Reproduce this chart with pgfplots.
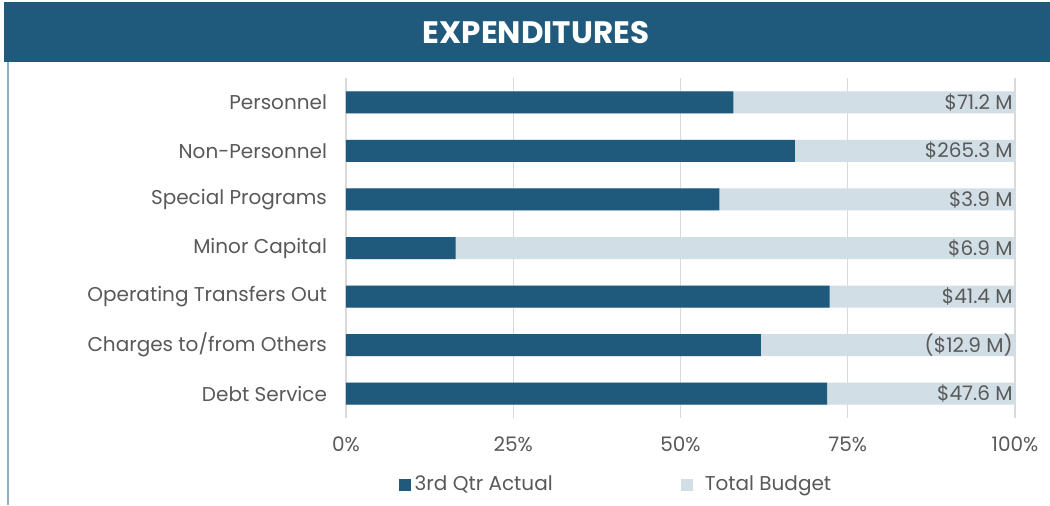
\documentclass[border=0pt]{standalone}
\usepackage{pgfplots}
\pgfplotsset{compat=1.18}
\usepackage{fontspec}
\setmainfont{Poppins}
\definecolor{dark}{HTML}{1F5A7C}
\definecolor{light}{HTML}{D1DEE6}
\definecolor{txt}{HTML}{595959}
\definecolor{gridc}{HTML}{D9D9D9}
\definecolor{framec}{HTML}{8FAFC4}
\begin{document}
\begin{tikzpicture}
\fill[white] (0pt,0pt) rectangle (525pt,-252.5pt);
\fill[dark] (2pt,-1pt) rectangle (525pt,-31pt);
\draw[framec, line width=0.8pt] (4pt,-31pt) -- (4pt,-252.5pt);
\node[white, font=\bfseries\fontsize{15.5}{18}\selectfont] at (268pt,-16.5pt) {EXPENDITURES};
\begin{axis}[
  at={(173pt,-209pt)}, anchor=south west,
  scale only axis, width=334.5pt, height=170pt,
  xbar, bar width=11pt, bar shift=0pt,
  xmin=0, xmax=100, ymin=-0.5, ymax=6.5, y dir=reverse,
  xtick={0,25,50,75,100},
  xticklabel={\pgfmathprintnumber{\tick}\%},
  /pgf/number format/assume math mode=true,
  ytick={0,...,6},
  yticklabels={Personnel,Non-Personnel,Special Programs,Minor Capital,Operating Transfers Out,Charges to/from Others,Debt Service},
  tick label style={txt, font=\fontsize{10}{12}\selectfont},
  yticklabel style={xshift=-6pt},
  xticklabel style={yshift=-6pt},
  major tick length=0pt,
  axis line style={draw=none},
  xmajorgrids, grid style={gridc, line width=0.6pt},
  legend style={at={(0.405,0)}, anchor=center, yshift=-33.5pt, draw=none, fill=none,
    legend columns=2, font=\fontsize{10}{12}\selectfont, text=txt,
    /tikz/every even column/.append style={column sep=62pt}},
  legend image code/.code={\fill[#1, draw=none] (2pt,-3pt) rectangle (8pt,3pt);},
]
\addplot[fill=light, draw=none, forget plot] coordinates {(100,0) (100,1) (100,2) (100,3) (100,4) (100,5) (100,6)};
\addplot[fill=dark, draw=none, forget plot] coordinates {(57.9,0) (67.1,1) (55.8,2) (16.4,3) (72.3,4) (62.0,5) (71.9,6)};
\addlegendimage{fill=dark, draw=none}
\addlegendentry{3rd Qtr Actual}
\addlegendimage{fill=light, draw=none}
\addlegendentry{\hspace{4pt}Total Budget}
\foreach \i/\t in {0/{\$71.2 M},1/{\$265.3 M},2/{\$3.9 M},3/{\$6.9 M},4/{\$41.4 M},5/{(\$12.9 M)},6/{\$47.6 M}}{
  \edef\tmp{\noexpand\node[anchor=east, text=txt, font=\noexpand\fontsize{10}{12}\noexpand\selectfont, inner sep=1pt] at (axis cs:100,\i) {\unexpanded\expandafter{\t}};}
  \tmp
}
\end{axis}
\end{tikzpicture}
\end{document}
